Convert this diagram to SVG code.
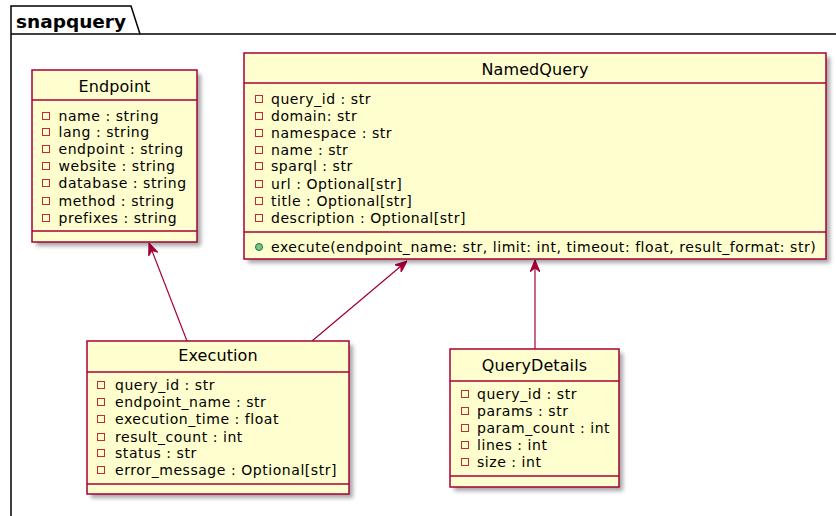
<svg xmlns="http://www.w3.org/2000/svg" width="836" height="516" viewBox="0 0 836 516">
  <style>
    .box { fill: #FEFECE; stroke: #A80036; stroke-width: 1.5; }
    .sep { stroke: #A80036; stroke-width: 1.5; }
    .shadow { fill: #000; opacity: 0.35; filter: url(#blur); }
    .title { font-family: "DejaVu Sans", sans-serif; font-size: 16px; letter-spacing: 0.1px; fill: #000; text-anchor: middle; }
    .attr { font-family: "DejaVu Sans", sans-serif; font-size: 14px; letter-spacing: 0.55px; fill: #000; }
    .priv { fill: none; stroke: #C82930; stroke-width: 1; }
    .pub { fill: #84BE84; stroke: #038048; stroke-width: 1; }
    .edge { fill: none; stroke: #A80036; stroke-width: 1.2; }
    .pkg { fill: none; stroke: #000; stroke-width: 1.5; }
    .pkgname { font-family: "DejaVu Sans", sans-serif; font-size: 18.5px; font-weight: bold; fill: #000; }
  </style>
  <defs>
    <filter id="blur" x="-10%" y="-10%" width="120%" height="120%">
      <feGaussianBlur stdDeviation="2"/>
    </filter>
    <marker id="arrow" viewBox="0 0 12 10" refX="12" refY="5" markerWidth="12" markerHeight="10" markerUnits="userSpaceOnUse" orient="auto">
      <path d="M0,0 L12,5 L0,10 L4,5 Z" fill="#A80036" stroke="#A80036" stroke-width="1"/>
    </marker>
  </defs>
  <rect width="836" height="516" fill="#fff"/>

  <!-- package frame -->
  <g id="pkg-snapquery">
    <path class="pkg" d="M11,516 L11,6 L131,6 L140,34 L836,34"/>
    <line class="pkg" x1="11" y1="34" x2="140" y2="34"/>
    <text class="pkgname" x="16" y="28">snapquery</text>
  </g>

  <!-- connectors -->
  <g id="connectors">
    <line class="edge" x1="187" y1="341" x2="149" y2="243" marker-end="url(#arrow)"/>
    <line class="edge" x1="312" y1="341" x2="407" y2="261" marker-end="url(#arrow)"/>
    <line class="edge" x1="535" y1="349" x2="535" y2="260" marker-end="url(#arrow)"/>
  </g>

  <!-- Endpoint -->
  <g id="Endpoint">
    <rect class="shadow" x="36" y="74" width="165" height="172"/>
    <rect class="box" x="32" y="70" width="165" height="172"/>
    <line class="sep" x1="32" y1="100" x2="197" y2="100"/>
    <line class="sep" x1="32" y1="231" x2="197" y2="231"/>
    <text class="title" x="114.5" y="91.5">Endpoint</text>
    <rect class="priv" x="42.5" y="112.5" width="7" height="7"/>
    <rect class="priv" x="42.5" y="128.5" width="7" height="7"/>
    <rect class="priv" x="42.5" y="145.5" width="7" height="7"/>
    <rect class="priv" x="42.5" y="162.5" width="7" height="7"/>
    <rect class="priv" x="42.5" y="179.5" width="7" height="7"/>
    <rect class="priv" x="42.5" y="197.5" width="7" height="7"/>
    <rect class="priv" x="42.5" y="214.5" width="7" height="7"/>
    <text class="attr" x="58.5" y="121">name : string</text>
    <text class="attr" x="58.5" y="137">lang : string</text>
    <text class="attr" x="58.5" y="154">endpoint : string</text>
    <text class="attr" x="58.5" y="171">website : string</text>
    <text class="attr" x="58.5" y="188">database : string</text>
    <text class="attr" x="58.5" y="206">method : string</text>
    <text class="attr" x="58.5" y="223">prefixes : string</text>
  </g>

  <!-- NamedQuery -->
  <g id="NamedQuery">
    <rect class="shadow" x="248" y="57" width="582" height="206"/>
    <rect class="box" x="244" y="53" width="582" height="206"/>
    <line class="sep" x1="244" y1="83" x2="826" y2="83"/>
    <line class="sep" x1="244" y1="232" x2="826" y2="232"/>
    <text class="title" x="535" y="74.5">NamedQuery</text>
    <rect class="priv" x="255.5" y="95.5" width="7" height="7"/>
    <rect class="priv" x="255.5" y="112.5" width="7" height="7"/>
    <rect class="priv" x="255.5" y="129.5" width="7" height="7"/>
    <rect class="priv" x="255.5" y="146.5" width="7" height="7"/>
    <rect class="priv" x="255.5" y="162.5" width="7" height="7"/>
    <rect class="priv" x="255.5" y="180.5" width="7" height="7"/>
    <rect class="priv" x="255.5" y="197.5" width="7" height="7"/>
    <rect class="priv" x="255.5" y="214.5" width="7" height="7"/>
    <text class="attr" x="271" y="104">query_id : str</text>
    <text class="attr" x="271" y="121">domain: str</text>
    <text class="attr" x="271" y="138">namespace : str</text>
    <text class="attr" x="271" y="155">name : str</text>
    <text class="attr" x="271" y="171">sparql : str</text>
    <text class="attr" x="271" y="189">url : Optional[str]</text>
    <text class="attr" x="271" y="206">title : Optional[str]</text>
    <text class="attr" x="271" y="223">description : Optional[str]</text>
    <circle class="pub" cx="259" cy="247" r="3.5"/>
    <text class="attr" x="271" y="252">execute(endpoint_name: str, limit: int, timeout: float, result_format: str)</text>
  </g>

  <!-- Execution -->
  <g id="Execution">
    <rect class="shadow" x="91" y="345" width="262" height="153"/>
    <rect class="box" x="87" y="341" width="262" height="153"/>
    <line class="sep" x1="87" y1="372" x2="349" y2="372"/>
    <line class="sep" x1="87" y1="484" x2="349" y2="484"/>
    <text class="title" x="218" y="361">Execution</text>
    <rect class="priv" x="97.5" y="381.5" width="7" height="7"/>
    <rect class="priv" x="97.5" y="398.5" width="7" height="7"/>
    <rect class="priv" x="97.5" y="415.5" width="7" height="7"/>
    <rect class="priv" x="97.5" y="433.5" width="7" height="7"/>
    <rect class="priv" x="97.5" y="449.5" width="7" height="7"/>
    <rect class="priv" x="97.5" y="466.5" width="7" height="7"/>
    <text class="attr" x="115" y="390">query_id : str</text>
    <text class="attr" x="115" y="407">endpoint_name : str</text>
    <text class="attr" x="115" y="424">execution_time : float</text>
    <text class="attr" x="115" y="442">result_count : int</text>
    <text class="attr" x="115" y="458">status : str</text>
    <text class="attr" x="115" y="475">error_message : Optional[str]</text>
  </g>

  <!-- QueryDetails -->
  <g id="QueryDetails">
    <rect class="shadow" x="454" y="353" width="169" height="138"/>
    <rect class="box" x="450" y="349" width="169" height="138"/>
    <line class="sep" x1="450" y1="381" x2="619" y2="381"/>
    <line class="sep" x1="450" y1="476" x2="619" y2="476"/>
    <text class="title" x="534.5" y="370.5">QueryDetails</text>
    <rect class="priv" x="461.5" y="390.5" width="7" height="7"/>
    <rect class="priv" x="461.5" y="407.5" width="7" height="7"/>
    <rect class="priv" x="461.5" y="424.5" width="7" height="7"/>
    <rect class="priv" x="461.5" y="441.5" width="7" height="7"/>
    <rect class="priv" x="461.5" y="458.5" width="7" height="7"/>
    <text class="attr" x="477" y="399">query_id : str</text>
    <text class="attr" x="477" y="416">params : str</text>
    <text class="attr" x="477" y="433">param_count : int</text>
    <text class="attr" x="477" y="450">lines : int</text>
    <text class="attr" x="477" y="467">size : int</text>
  </g>
</svg>
